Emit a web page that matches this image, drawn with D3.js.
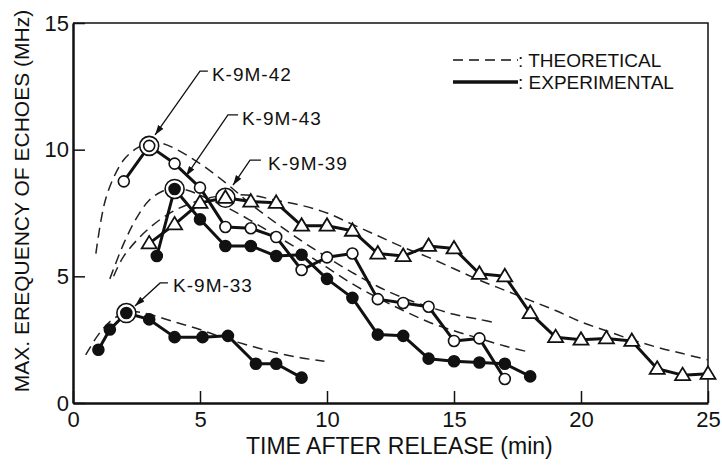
<!DOCTYPE html>
<html lang="en">
<head>
<meta charset="UTF-8">
<script src="https://d3js.org/d3.v7.min.js"></script>
<style>
  body { margin: 0; background: #fff; }
  text { font-family: 'Liberation Sans', Arial, sans-serif; fill: #111; }
</style>
</head>
<body>
<div id="chart"></div>
<script>
  // experimental data: time after release (min) / max frequency (MHz)
  let t42 = [2, 3, 4, 5, 6, 7, 8, 9, 10, 11, 12, 13, 14, 15, 16, 17];
  let f42 = [8.75, 10.15, 9.45, 8.5, 6.95, 6.9, 6.55, 5.25, 5.75, 5.9, 4.1, 3.95, 3.8, 2.45, 2.55, 0.95];

  let t43 = [3.3, 4, 5, 6, 7, 8, 9, 10, 11, 12, 13, 14, 15, 16, 17, 18];
  let f43 = [5.8, 8.45, 7.25, 6.2, 6.2, 5.8, 5.85, 4.9, 4.15, 2.7, 2.65, 1.75, 1.65, 1.6, 1.55, 1.05];

  let t39 = [3, 4, 5, 6, 7, 8, 9, 10, 11, 12, 13, 14, 15, 16, 17, 18, 19, 20, 21, 22, 23, 24, 25];
  let f39 = [6.3, 7.05, 7.9, 8.1, 7.95, 7.9, 7.0, 7.0, 6.8, 5.9, 5.8, 6.2, 6.1, 5.1, 5.0, 3.55, 2.6, 2.5, 2.55, 2.45, 1.35, 1.1, 1.15];

  let t33 = [1, 1.45, 2.1, 3, 4, 5.1, 6.1, 7.2, 8, 9];
  let f33 = [2.1, 2.9, 3.55, 3.3, 2.6, 2.6, 2.65, 1.55, 1.55, 1.0];

  // theoretical curves
  let thT42 = [0.9, 1.1, 1.3, 1.6, 2, 2.5, 3, 3.5, 4, 5, 6, 7, 8, 9, 10, 11, 12, 13, 14, 15, 16, 16.7];
  let thF42 = [5.9, 7.2, 8.1, 8.9, 9.6, 10.05, 10.25, 10.25, 10.05, 9.45, 8.7, 7.85, 7.1, 6.4, 5.75, 5.15, 4.6, 4.15, 3.8, 3.5, 3.3, 3.15];

  let thT43 = [1.45, 2, 2.5, 3, 3.5, 4, 4.5, 5, 6, 7, 8, 9, 10, 11, 12, 13, 14, 15, 16, 17, 18];
  let thF43 = [4.9, 6.3, 7.3, 8.0, 8.35, 8.45, 8.4, 8.2, 7.75, 7.2, 6.6, 6.0, 5.35, 4.7, 4.15, 3.65, 3.2, 2.85, 2.55, 2.25, 2.0];

  let thT39 = [1.6, 2, 3, 4, 5, 6, 7, 8, 9, 10, 11, 12, 13, 14, 15, 16, 17, 18, 19, 20, 21, 22, 23, 24, 25];
  let thF39 = [5.0, 5.8, 6.9, 7.6, 8.0, 8.2, 8.2, 8.0, 7.8, 7.5, 7.05, 6.6, 6.15, 5.75, 5.3, 4.85, 4.45, 4.05, 3.65, 3.2, 2.85, 2.5, 2.2, 1.95, 1.7];

  let thT33 = [0.5, 1, 1.5, 2, 2.5, 3, 4, 5, 6, 7, 8, 9, 9.9];
  let thF33 = [1.9, 2.7, 3.25, 3.55, 3.6, 3.5, 3.2, 2.9, 2.55, 2.25, 1.98, 1.78, 1.65];

  // labels (data units) and their leader lines
  let labelNames = ["K-9M-42", "K-9M-43", "K-9M-39", "K-9M-33"];
  let labelX = [5.47, 6.65, 7.68, 3.94];
  let labelY = [12.99, 11.25, 9.47, 4.63];
  let leaderX = [[5.31, 5.0, 3.23], [6.5, 6.1, 4.45], [7.4, 6.97, 6.3], [3.74, 3.43, 2.44]];
  let leaderY = [[13.1, 13.1, 10.58], [11.37, 11.37, 8.96], [9.59, 9.59, 8.6], [4.74, 4.74, 3.83]];
  // peak points that get a ring
  let ringT = [3, 4, 6, 2.1];
  let ringF = [10.15, 8.45, 8.1, 3.55];

  let xTicks = [0, 5, 10, 15, 20, 25];
  let yTicks = [0, 5, 10, 15];
  let legendLabels = ["THEORETICAL", "EXPERIMENTAL"];

  let margin = {top: 23, right: 14, bottom: 65, left: 73},
      width = 722,
      height = 468,
      chartWidth = width - margin.left - margin.right,
      chartHeight = height - margin.top - margin.bottom;

  let svg = d3.select("#chart").append("svg")
      .attr("width", width)
      .attr("height", height)
      .append("g")
      .attr("transform", "translate(" + margin.left + "," + margin.top + ")");

  let x = d3.scaleLinear().domain([0, 25]).range([0, chartWidth]);
  let y = d3.scaleLinear().domain([0, 15]).range([chartHeight, 0]);

  svg.append("defs").append("marker")
      .attr("id", "arrow")
      .attr("viewBox", "0 0 10 10")
      .attr("refX", 10).attr("refY", 5)
      .attr("markerWidth", 10).attr("markerHeight", 10)
      .attr("markerUnits", "userSpaceOnUse")
      .attr("orient", "auto")
      .append("path").attr("d", "M0,1.8L10,5L0,8.2Z").attr("fill", "#111");

  // frame top/right
  svg.append("path")
      .attr("d", "M0,0H" + chartWidth + "V" + chartHeight)
      .attr("fill", "none").attr("stroke", "#111").attr("stroke-width", 1.5);

  // axes with inward ticks
  let xAxis = svg.append("g")
      .attr("transform", "translate(0," + chartHeight + ")")
      .call(d3.axisBottom(x).tickValues(xTicks).tickSize(-12).tickSizeOuter(0).tickPadding(8));
  let yAxis = svg.append("g")
      .call(d3.axisLeft(y).tickValues(yTicks).tickSize(-12).tickSizeOuter(0).tickPadding(4));
  [xAxis, yAxis].forEach(a => {
    a.select(".domain").attr("stroke", "#111").attr("stroke-width", 2.5);
    a.selectAll(".tick line").attr("stroke", "#111").attr("stroke-width", 1.5);
    a.selectAll("text").style("font-size", "22px").style("font-family", "'Liberation Sans', Arial, sans-serif").attr("fill", "#111");
  });

  svg.append("text")
      .attr("x", x(12.85)).attr("y", chartHeight + 51)
      .attr("text-anchor", "middle")
      .style("font-size", "23px")
      .text("TIME AFTER RELEASE (min)");

  svg.append("text")
      .attr("transform", "translate(-44," + (chartHeight / 2 - 12) + ") rotate(-90)")
      .attr("text-anchor", "middle")
      .style("font-size", "21px")
      .text("MAX. EREQUENCY OF ECHOES (MHz)");

  // theoretical (dashed)
  let thLine = d3.line()
      .x(d => x(d[0]))
      .y(d => y(d[1]))
      .curve(d3.curveCatmullRom);
  let theory = [[thT42, thF42], [thT43, thF43], [thT39, thF39], [thT33, thF33]];
  theory.forEach(([ts, fs]) => {
    svg.append("path")
        .attr("d", thLine(ts.map((t, i) => [t, fs[i]])))
        .attr("fill", "none")
        .attr("stroke", "#222")
        .attr("stroke-width", 1.5)
        .attr("stroke-dasharray", "10,6");
  });

  // experimental lines
  let expLine = d3.line().x(d => x(d[0])).y(d => y(d[1]));
  let series = [
    {t: t42, f: f42, mark: "open"},
    {t: t43, f: f43, mark: "filled"},
    {t: t39, f: f39, mark: "tri"},
    {t: t33, f: f33, mark: "filled"}
  ];
  series.forEach(s => {
    svg.append("path")
        .attr("d", expLine(s.t.map((t, i) => [t, s.f[i]])))
        .attr("fill", "none")
        .attr("stroke", "#111")
        .attr("stroke-width", 3)
        .attr("stroke-linejoin", "round");
  });

  // rings around peaks
  svg.selectAll(".ring")
      .data(ringT)
      .join("circle")
      .attr("class", "ring")
      .attr("cx", d => x(d))
      .attr("cy", (d, i) => y(ringF[i]))
      .attr("r", 9.5)
      .attr("fill", "#fff")
      .attr("stroke", "#111")
      .attr("stroke-width", 1.6);

  // markers
  series.forEach(s => {
    let pts = s.t.map((t, i) => [t, s.f[i]]);
    let g = svg.append("g");
    if (s.mark === "tri") {
      g.selectAll("path").data(pts).join("path")
          .attr("d", d => {
            let cx = x(d[0]), cy = y(d[1]);
            return "M" + cx + "," + (cy - 7.5) + "L" + (cx + 7.5) + "," + (cy + 5) + "L" + (cx - 7.5) + "," + (cy + 5) + "Z";
          })
          .attr("fill", "#fff").attr("stroke", "#111").attr("stroke-width", 1.8)
          .attr("stroke-linejoin", "miter");
    } else {
      g.selectAll("circle").data(pts).join("circle")
          .attr("cx", d => x(d[0]))
          .attr("cy", d => y(d[1]))
          .attr("r", 5.5)
          .attr("fill", s.mark === "open" ? "#fff" : "#111")
          .attr("stroke", "#111")
          .attr("stroke-width", 1.6);
    }
  });

  // labels with leader arrows
  labelNames.forEach((name, i) => {
    svg.append("path")
        .attr("d", d3.line()(leaderX[i].map((lx, j) => [x(lx), y(leaderY[i][j])])))
        .attr("fill", "none")
        .attr("stroke", "#111")
        .attr("stroke-width", 1.3)
        .attr("marker-end", "url(#arrow)");
    svg.append("text")
        .attr("x", x(labelX[i]))
        .attr("y", y(labelY[i]))
        .attr("dy", "0.35em")
        .style("font-size", "19px")
        .style("letter-spacing", "1px")
        .text(name);
  });

  // legend
  let legend = svg.append("g").attr("transform", "translate(380,37)");
  legendLabels.forEach((lab, i) => {
    legend.append("line")
        .attr("x1", 0).attr("x2", 65)
        .attr("y1", i * 22).attr("y2", i * 22)
        .attr("stroke", "#111")
        .attr("stroke-width", i === 0 ? 1.5 : 3.5)
        .attr("stroke-dasharray", i === 0 ? "10,6" : null);
    legend.append("text")
        .attr("x", 65).attr("y", i * 22)
        .attr("dy", "0.35em")
        .style("font-size", "19px")
        .text(": " + lab);
  });
</script>
</body>
</html>
